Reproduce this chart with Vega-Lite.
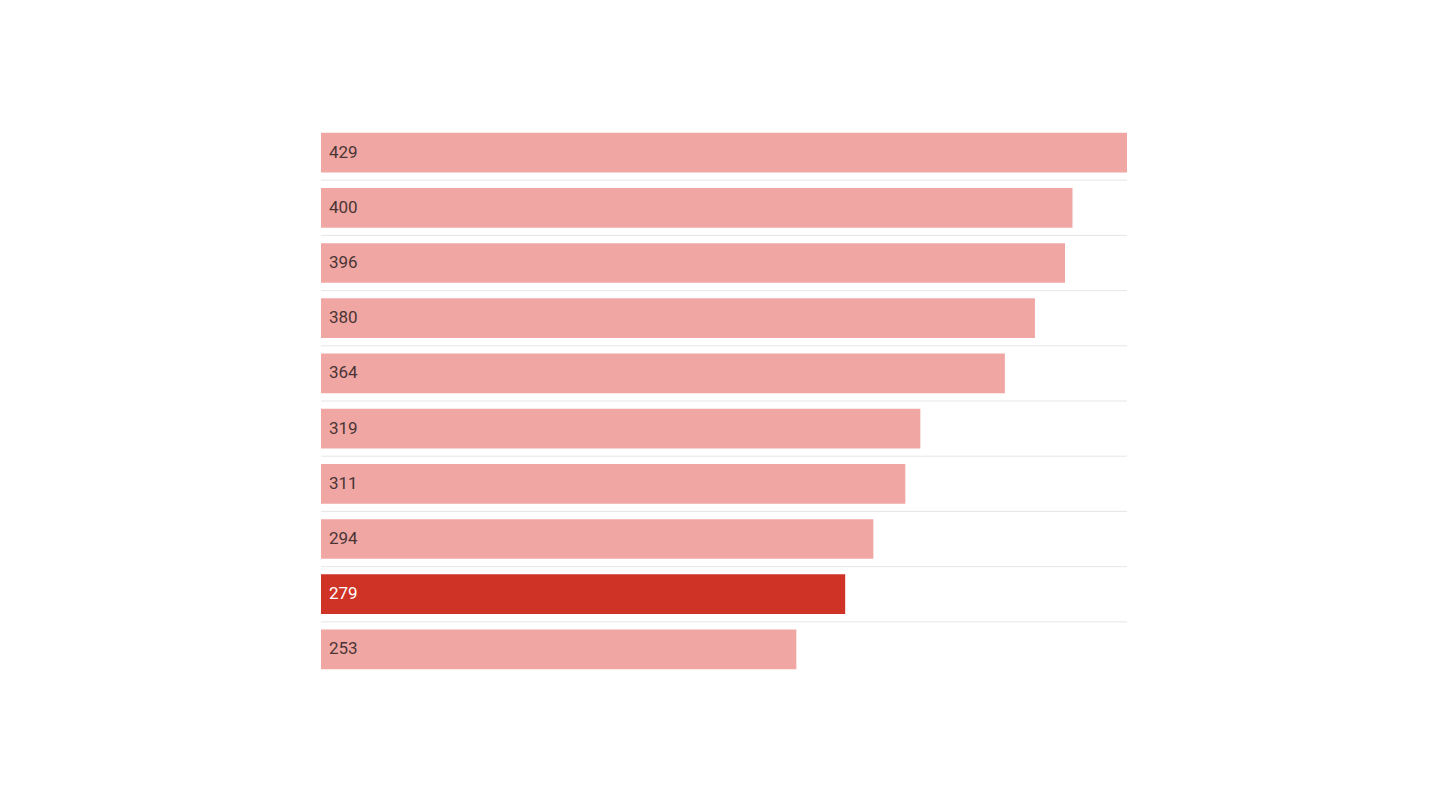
{
  "$schema": "https://vega.github.io/schema/vega-lite/v6.json",
  "width": 806,
  "height": 552,
  "autosize": {"type": "none"},
  "padding": {"left": 321, "top": 125, "right": 0, "bottom": 0},
  "background": "white",
  "config": {"view": {"stroke": null}},
  "data": {
    "values": [
      {"rank": 1, "value": 429, "highlight": false},
      {"rank": 2, "value": 400, "highlight": false},
      {"rank": 3, "value": 396, "highlight": false},
      {"rank": 4, "value": 380, "highlight": false},
      {"rank": 5, "value": 364, "highlight": false},
      {"rank": 6, "value": 319, "highlight": false},
      {"rank": 7, "value": 311, "highlight": false},
      {"rank": 8, "value": 294, "highlight": false},
      {"rank": 9, "value": 279, "highlight": true},
      {"rank": 10, "value": 253, "highlight": false}
    ]
  },
  "encoding": {
    "y": {
      "field": "rank",
      "type": "ordinal",
      "sort": "ascending",
      "axis": null,
      "scale": {"paddingInner": 0.28, "paddingOuter": 0.14}
    }
  },
  "layer": [
    {
      "transform": [{"filter": "datum.rank > 1"}],
      "mark": {"type": "rule", "color": "#e6e6e6", "strokeWidth": 1, "yOffset": -7.7},
      "encoding": {"y": {"field": "rank", "type": "ordinal", "bandPosition": 0}}
    },
    {
      "mark": {"type": "bar"},
      "encoding": {
        "x": {
          "field": "value",
          "type": "quantitative",
          "axis": null,
          "scale": {"domain": [0, 429], "nice": false, "zero": true}
        },
        "color": {
          "field": "highlight",
          "type": "nominal",
          "scale": {"domain": [false, true], "range": ["#f0a7a4", "#cf3326"]},
          "legend": null
        }
      }
    },
    {
      "mark": {"type": "text", "align": "left", "baseline": "middle", "dx": 8, "fontSize": 17, "font": "Roboto"},
      "encoding": {
        "x": {"datum": 0, "type": "quantitative", "scale": {"domain": [0, 429], "nice": false}},
        "text": {"field": "value", "type": "quantitative"},
        "color": {
          "field": "highlight",
          "type": "nominal",
          "scale": {"domain": [false, true], "range": ["#4a3535", "#ffffff"]},
          "legend": null
        }
      }
    }
  ],
  "resolve": {"scale": {"color": "independent"}}
}
